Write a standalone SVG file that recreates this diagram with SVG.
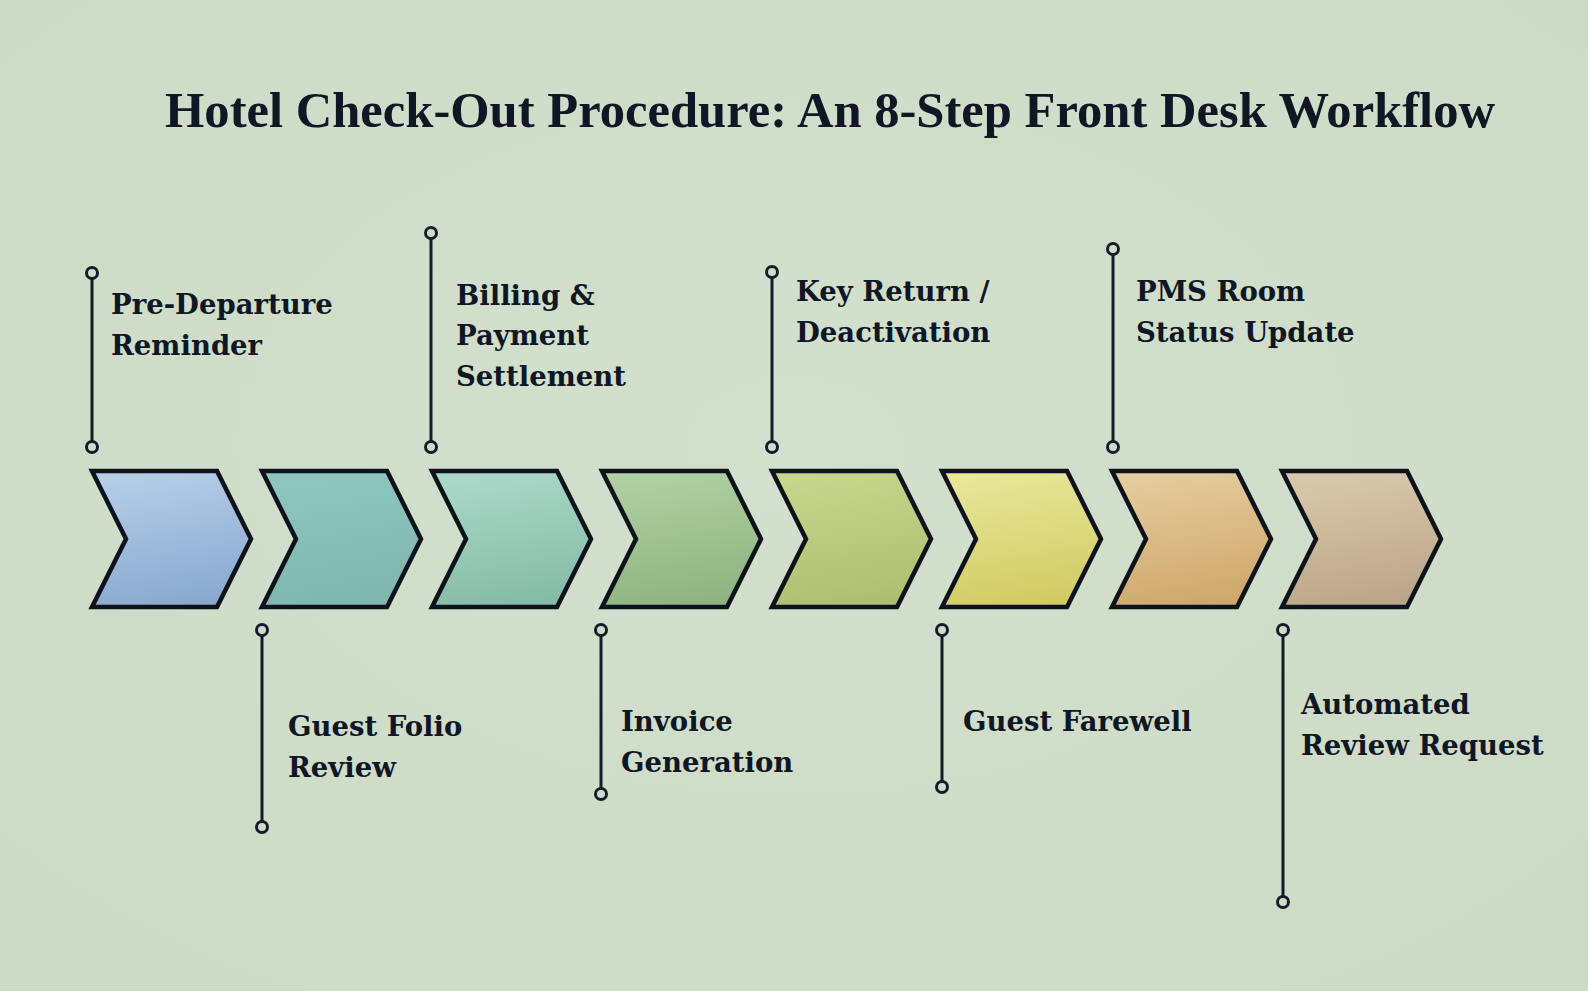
<svg xmlns="http://www.w3.org/2000/svg" width="1588" height="991" viewBox="0 0 1588 991">
  <defs>
    <style>
      .title { font-family: "Liberation Serif", "DejaVu Serif", serif; font-weight: bold; font-size: 50px; fill: #0f1724; }
      .lbl { font-family: "DejaVu Serif", "Liberation Serif", serif; font-weight: bold; font-size: 27.5px; fill: #0f1724; }
      .chev { stroke: #0d121b; stroke-width: 4.5; stroke-linejoin: miter; }
      .conn line { stroke: #141c2b; stroke-width: 3; }
      .conn circle { fill: #cfddc8; stroke: #141c2b; stroke-width: 3; }
    </style>
    <radialGradient id="bg" cx="50%" cy="45%" r="75%">
      <stop offset="0" stop-color="#d3e0cd"/>
      <stop offset="1" stop-color="#ccdac6"/>
    </radialGradient>
    <linearGradient id="g1" x1="0.3" y1="0" x2="0.5" y2="1"><stop offset="0" stop-color="#b6cee8"/><stop offset="1" stop-color="#89a9cf"/></linearGradient>
    <linearGradient id="g2" x1="0.3" y1="0" x2="0.5" y2="1"><stop offset="0" stop-color="#8fc6be"/><stop offset="1" stop-color="#7fb7af"/></linearGradient>
    <linearGradient id="g3" x1="0.3" y1="0" x2="0.5" y2="1"><stop offset="0" stop-color="#aad9c9"/><stop offset="1" stop-color="#86bba6"/></linearGradient>
    <linearGradient id="g4" x1="0.3" y1="0" x2="0.5" y2="1"><stop offset="0" stop-color="#b1d1a2"/><stop offset="1" stop-color="#8fb381"/></linearGradient>
    <linearGradient id="g5" x1="0.3" y1="0" x2="0.5" y2="1"><stop offset="0" stop-color="#c7d78e"/><stop offset="1" stop-color="#adbf6f"/></linearGradient>
    <linearGradient id="g6" x1="0.3" y1="0" x2="0.5" y2="1"><stop offset="0" stop-color="#e8e79b"/><stop offset="1" stop-color="#d1cb64"/></linearGradient>
    <linearGradient id="g7" x1="0.3" y1="0" x2="0.5" y2="1"><stop offset="0" stop-color="#e5cc9f"/><stop offset="1" stop-color="#cfa86c"/></linearGradient>
    <linearGradient id="g8" x1="0.3" y1="0" x2="0.5" y2="1"><stop offset="0" stop-color="#d8c9ad"/><stop offset="1" stop-color="#bba689"/></linearGradient>
  </defs>

  <rect x="0" y="0" width="1588" height="991" fill="url(#bg)"/>

  <text class="title" x="165" y="127" textLength="1330" lengthAdjust="spacingAndGlyphs">Hotel Check-Out Procedure: An 8-Step Front Desk Workflow</text>

  <g id="connectors" class="conn">
    <line x1="92" y1="273" x2="92" y2="447"/><circle cx="92" cy="273" r="5.5"/><circle cx="92" cy="447" r="5.5"/>
    <line x1="262" y1="630" x2="262" y2="827"/><circle cx="262" cy="630" r="5.5"/><circle cx="262" cy="827" r="5.5"/>
    <line x1="431" y1="233" x2="431" y2="447"/><circle cx="431" cy="233" r="5.5"/><circle cx="431" cy="447" r="5.5"/>
    <line x1="601" y1="630" x2="601" y2="794"/><circle cx="601" cy="630" r="5.5"/><circle cx="601" cy="794" r="5.5"/>
    <line x1="772" y1="272" x2="772" y2="447"/><circle cx="772" cy="272" r="5.5"/><circle cx="772" cy="447" r="5.5"/>
    <line x1="942" y1="630" x2="942" y2="787"/><circle cx="942" cy="630" r="5.5"/><circle cx="942" cy="787" r="5.5"/>
    <line x1="1113" y1="249" x2="1113" y2="447"/><circle cx="1113" cy="249" r="5.5"/><circle cx="1113" cy="447" r="5.5"/>
    <line x1="1283" y1="630" x2="1283" y2="902"/><circle cx="1283" cy="630" r="5.5"/><circle cx="1283" cy="902" r="5.5"/>
  </g>

  <g id="step1">
    <polygon class="chev" fill="url(#g1)" points="92,471 217,471 251,539 217,607 92,607 126,539"/>
    <text class="lbl" x="111" y="314">Pre-Departure</text>
    <text class="lbl" x="111" y="355">Reminder</text>
  </g>
  <g id="step2">
    <polygon class="chev" fill="url(#g2)" points="262,471 387,471 421,539 387,607 262,607 296,539"/>
    <text class="lbl" x="288" y="736">Guest Folio</text>
    <text class="lbl" x="288" y="777">Review</text>
  </g>
  <g id="step3">
    <polygon class="chev" fill="url(#g3)" points="432,471 557,471 591,539 557,607 432,607 466,539"/>
    <text class="lbl" x="456" y="305">Billing &amp;</text>
    <text class="lbl" x="456" y="345">Payment</text>
    <text class="lbl" x="456" y="386">Settlement</text>
  </g>
  <g id="step4">
    <polygon class="chev" fill="url(#g4)" points="602,471 727,471 761,539 727,607 602,607 636,539"/>
    <text class="lbl" x="621" y="731">Invoice</text>
    <text class="lbl" x="621" y="772">Generation</text>
  </g>
  <g id="step5">
    <polygon class="chev" fill="url(#g5)" points="772,471 897,471 931,539 897,607 772,607 806,539"/>
    <text class="lbl" x="796" y="301">Key Return /</text>
    <text class="lbl" x="796" y="342">Deactivation</text>
  </g>
  <g id="step6">
    <polygon class="chev" fill="url(#g6)" points="942,471 1067,471 1101,539 1067,607 942,607 976,539"/>
    <text class="lbl" x="963" y="731">Guest Farewell</text>
  </g>
  <g id="step7">
    <polygon class="chev" fill="url(#g7)" points="1112,471 1237,471 1271,539 1237,607 1112,607 1146,539"/>
    <text class="lbl" x="1136" y="301">PMS Room</text>
    <text class="lbl" x="1136" y="342">Status Update</text>
  </g>
  <g id="step8">
    <polygon class="chev" fill="url(#g8)" points="1282,471 1407,471 1441,539 1407,607 1282,607 1316,539"/>
    <text class="lbl" x="1301" y="714">Automated</text>
    <text class="lbl" x="1301" y="755">Review Request</text>
  </g>
</svg>
